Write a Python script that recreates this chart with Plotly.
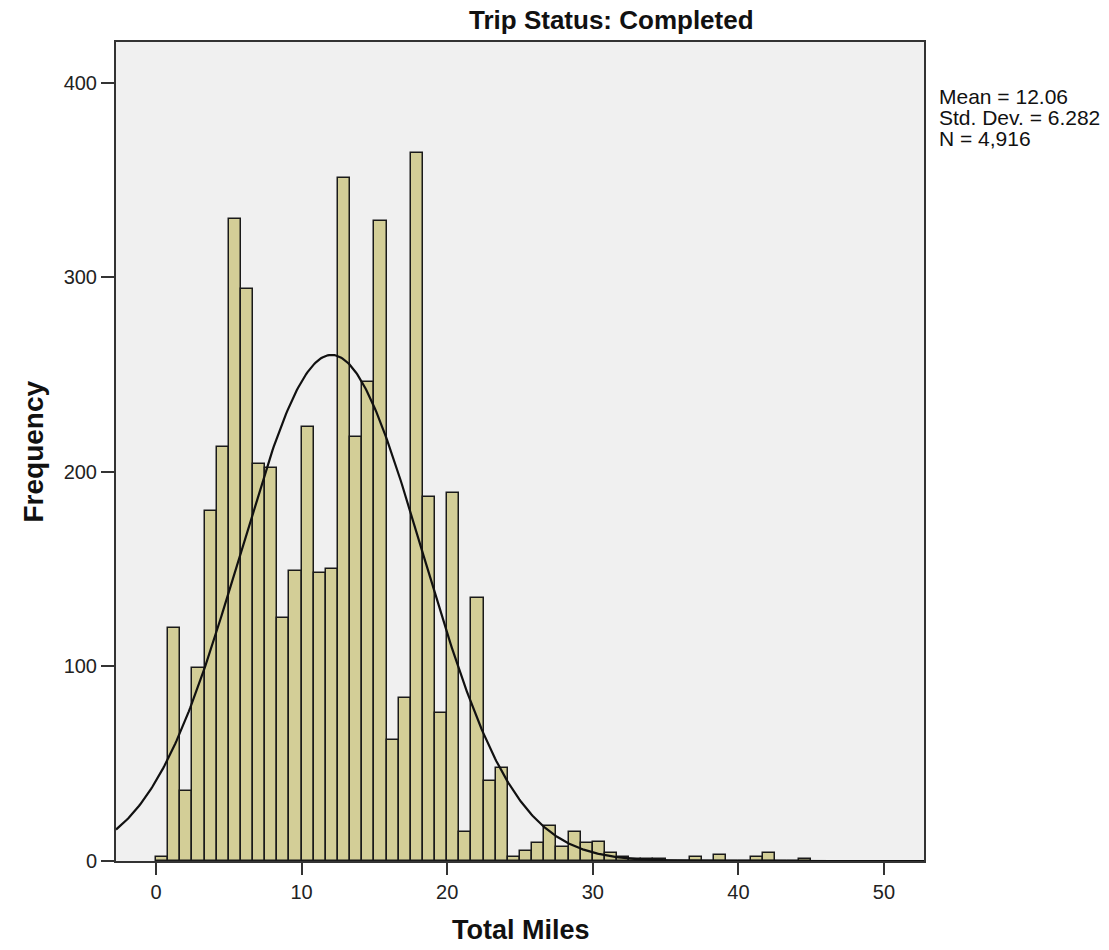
import numpy as np
import plotly.graph_objects as go

# ---- data ----
bin_width = 50 / 60          # histogram bin width (miles)
bin_start = 0.0
counts = [2, 120, 36, 99, 180, 213, 330, 294, 204, 202,
          125, 149, 223, 148, 150, 351, 218, 246, 329, 62,
          84, 364, 187, 76, 189, 15, 135, 41, 48, 2,
          5, 9, 18, 7, 15, 9, 10, 4, 2, 1,
          1, 1, 0, 0, 2, 0, 3, 0, 0, 2,
          4, 0, 0, 1]
x_ticks = [0, 10, 20, 30, 40, 50]
y_ticks = [0, 100, 200, 300, 400]
stat_mean = 12.06
stat_sd = 6.282
stat_n = 4916
title_text = "Trip Status: Completed"
x_title = "Total Miles"
y_title = "Frequency"
stats_lines = ["Mean = 12.06", "Std. Dev. = 6.282", "N = 4,916"]

x_range = [-2.75, 52.75]
y_range = [0, 421]

FONT = "Liberation Sans, Arial, Helvetica, sans-serif"

centers = [bin_start + (i + 0.5) * bin_width for i in range(len(counts))]

# fitted normal curve from the displayed statistics
xc = np.linspace(x_range[0], x_range[1], 600)
yc = stat_n * bin_width * np.exp(-0.5 * ((xc - stat_mean) / stat_sd) ** 2) / (stat_sd * np.sqrt(2 * np.pi))

fig = go.Figure()
fig.add_trace(go.Bar(
    x=centers, y=counts, width=bin_width,
    marker=dict(color="#D3CE97", line=dict(color="#1a1a1a", width=1.5)),
    showlegend=False, hoverinfo="x+y",
))
fig.add_trace(go.Scatter(
    x=xc, y=yc, mode="lines",
    line=dict(color="#111111", width=2.2),
    showlegend=False, hoverinfo="skip",
))

L, R, T, B = 116, 185, 42, 89
W, H = 1109, 950
pw, ph = W - L - R, H - T - B

def px_x(p):
    return (p - L) / pw

def px_y(p):
    return (H - B - p) / ph

fig.update_layout(
    width=W, height=H,
    margin=dict(l=L, r=R, t=T, b=B, pad=0),
    paper_bgcolor="white",
    plot_bgcolor="#F0F0F0",
    bargap=0,
    font=dict(family=FONT, color="#222222"),
    xaxis=dict(
        range=x_range, tickvals=x_ticks, ticktext=[str(v) for v in x_ticks],
        ticks="outside", ticklen=12, tickwidth=1.5, tickcolor="#333333",
        showline=True, linecolor="#333333", linewidth=2, mirror=True,
        showgrid=False, zeroline=False,
        tickfont=dict(size=20, family=FONT, color="#222222"),
    ),
    yaxis=dict(
        range=y_range, tickvals=y_ticks, ticktext=[str(v) for v in y_ticks],
        ticks="outside", ticklen=13, tickwidth=1.5, tickcolor="#333333",
        showline=True, linecolor="#333333", linewidth=2, mirror=True,
        showgrid=False, zeroline=False,
        tickfont=dict(size=20, family=FONT, color="#222222"),
    ),
)

annotations = [
    dict(text="<b>" + title_text + "</b>", x=px_x(611), y=px_y(20),
         xref="paper", yref="paper", xanchor="center", yanchor="middle",
         showarrow=False, font=dict(size=26, family=FONT, color="#111111")),
    dict(text="<b>" + x_title + "</b>", x=px_x(521), y=px_y(930),
         xref="paper", yref="paper", xanchor="center", yanchor="middle",
         showarrow=False, font=dict(size=27, family=FONT, color="#111111")),
    dict(text="<b>" + y_title + "</b>", x=px_x(33), y=0.5, textangle=-90,
         xref="paper", yref="paper", xanchor="center", yanchor="middle",
         showarrow=False, font=dict(size=28, family=FONT, color="#111111")),
]
for i, line in enumerate(stats_lines):
    annotations.append(dict(
        text=line, x=px_x(937), y=px_y(96 + 21 * i),
        xref="paper", yref="paper", xanchor="left", yanchor="middle",
        showarrow=False, font=dict(size=21, family=FONT, color="#111111")))
fig.update_layout(annotations=annotations)

fig.write_html(
    "out.html",
    config={"displayModeBar": False},
    post_script="document.body.style.margin='0';document.body.style.overflow='hidden';",
)
